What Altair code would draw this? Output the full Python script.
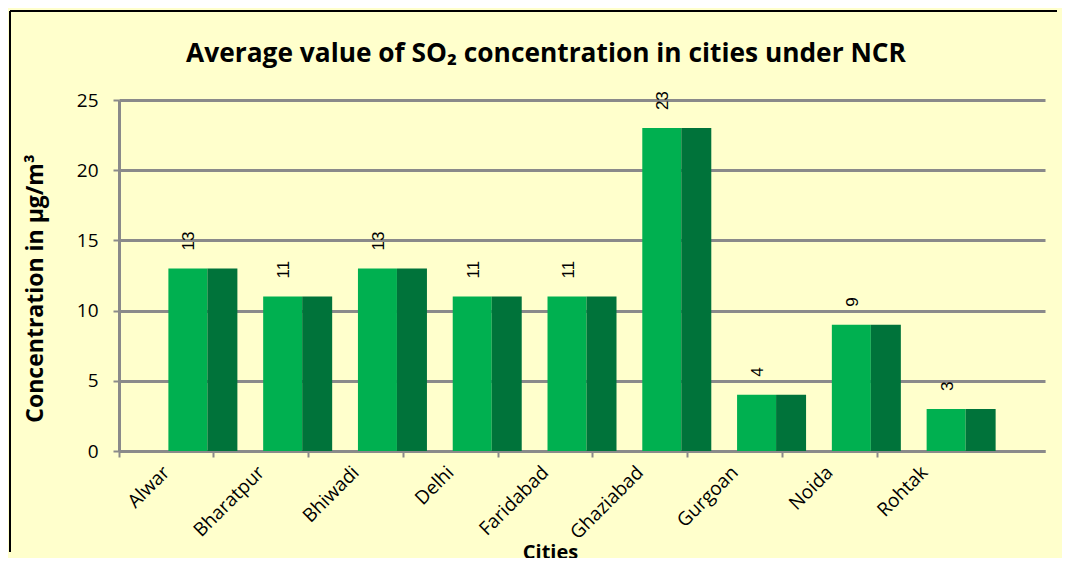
import altair as alt
import pandas as pd

cities = ["Alwar", "Bharatpur", "Bhiwadi", "Delhi", "Faridabad", "Ghaziabad", "Gurgoan", "Noida", "Rohtak"]
values = [13, 11, 13, 11, 11, 23, 4, 9, 3]
y_ticks = [0, 5, 10, 15, 20, 25]
title_text = "Average value of SO₂ concentration in cities under NCR"

df = pd.DataFrame({"city": cities, "value": values})

GRID = "#8a8a8a"
FONT = "Open Sans"

x_scale = alt.Scale(domain=cities, paddingInner=0, paddingOuter=0.385, align=0)
y_scale = alt.Scale(domain=[0, 25], nice=False)

x_enc = alt.X(
    "city:N",
    scale=x_scale,
    sort=cities,
    title="Cities",
    axis=alt.Axis(
        bandPosition=0,
        labelAngle=-45,
        labelAlign="right",
        labelBaseline="middle",
        labelPadding=12,
        labelFont=FONT,
        labelFontSize=19,
        labelColor="#000000",
        tickSize=6,
        tickColor=GRID,
        tickWidth=2,
        domainColor=GRID,
        domainWidth=3,
        grid=False,
        titleFont=FONT,
        titleFontSize=20,
        titleFontWeight="bold",
        titleColor="#000000",
        titleX=431,
        titleY=101,
        titleAlign="center",
        titleBaseline="middle",
    ),
)

y_enc = alt.Y(
    "value:Q",
    scale=y_scale,
    title="Concentration in µg/m³",
    axis=alt.Axis(
        values=y_ticks,
        grid=True,
        gridColor=GRID,
        gridWidth=3,
        domainColor=GRID,
        domainWidth=3,
        tickColor=GRID,
        tickWidth=2,
        tickSize=6,
        labelFont=FONT,
        labelFontSize=19,
        labelColor="#000000",
        labelPadding=15,
        titleFont=FONT,
        titleFontSize=23,
        titleFontWeight="bold",
        titleColor="#000000",
        titleX=-84,
        titleY=188,
        titleAngle=270,
        titleAlign="center",
        titleBaseline="middle",
    ),
)

base = alt.Chart(df)

front = base.mark_bar(color="#00B050", width=39, xOffset=21.5).encode(x=x_enc, y=y_enc)
side = base.mark_bar(color="#00733A", width=30, xOffset=56).encode(x=x_enc, y=y_enc)
labels = base.mark_text(
    angle=270, align="left", baseline="middle", dx=18, xOffset=23,
    font="Liberation Sans", fontSize=17, color="#000000",
).encode(x=x_enc, y=y_enc, text=alt.Text("value:Q"))

one = pd.DataFrame({"t": [title_text]})
title_mark = alt.Chart(one).mark_text(
    font=FONT, fontSize=26.3, fontWeight="bold", color="#000000",
    align="center", baseline="alphabetic",
).encode(text="t:N", x=alt.value(427), y=alt.value(-38))

frame_left = alt.Chart(one).mark_rule(color="#000000", strokeWidth=2).encode(
    x=alt.value(-109), y=alt.value(-89), y2=alt.value(452)
)
frame_top = alt.Chart(one).mark_rule(color="#000000", strokeWidth=2).encode(
    x=alt.value(-109), x2=alt.value(938), y=alt.value(-89)
)

chart = alt.layer(frame_left, frame_top, front, side, labels, title_mark).properties(
    width=926,
    height=351,
    autosize=alt.AutoSizeParams(type="none"),
    padding={"left": 111, "top": 92, "right": 17, "bottom": 107},
    background="#FFFFCC",
).configure_view(strokeWidth=0)

chart.save("out.html", embed_options={"renderer": "svg", "actions": False})
